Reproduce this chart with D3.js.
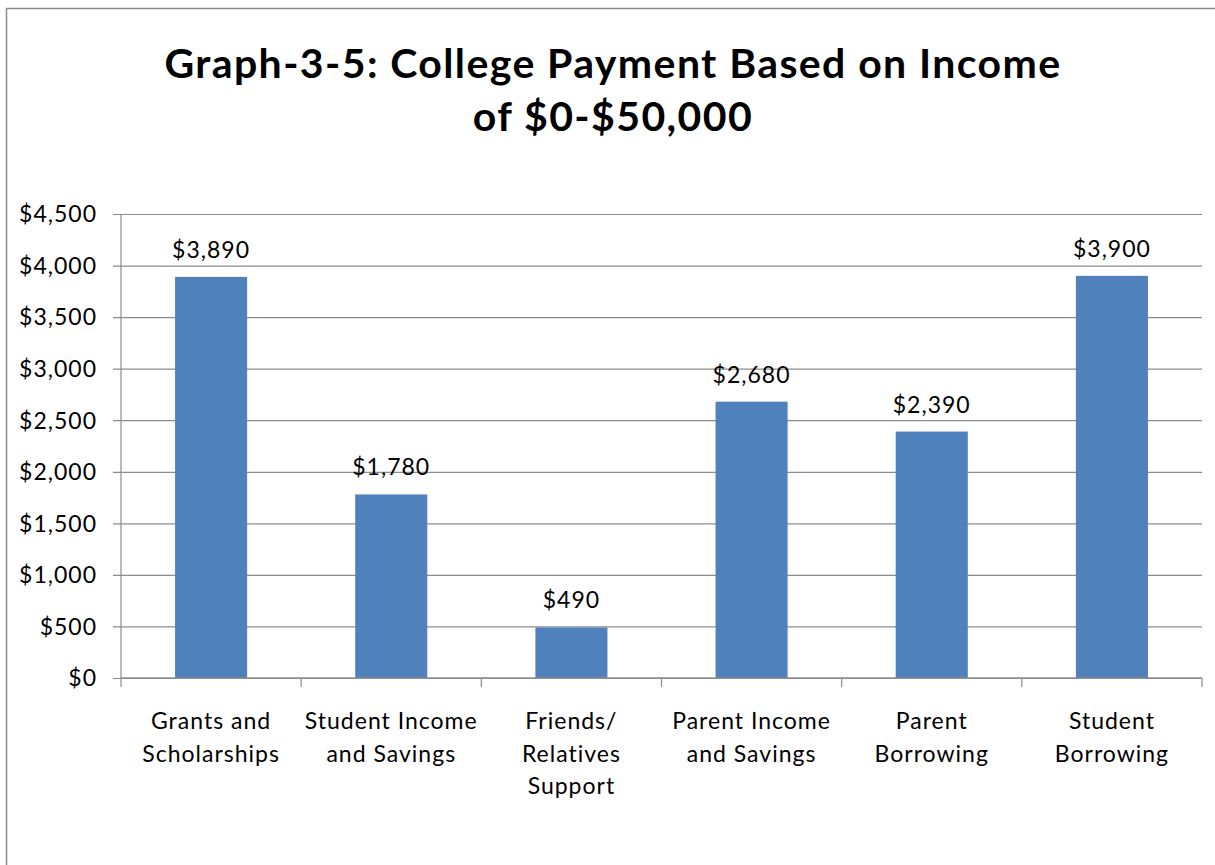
<!DOCTYPE html>
<html>
<head>
<meta charset="utf-8">
<script src="https://cdn.jsdelivr.net/npm/d3@7"></script>
<style>
  html, body { margin: 0; padding: 0; background: #fff; }
  svg { display: block; }
  text { font-family: Lato, "Open Sans", sans-serif; fill: #000; }
</style>
</head>
<body>
<svg id="chart" width="1215" height="865"></svg>
<script>
// Average college payment by source, family income $0-$50,000
const categories = [
  ["Grants and", "Scholarships"],
  ["Student Income", "and Savings"],
  ["Friends/", "Relatives", "Support"],
  ["Parent Income", "and Savings"],
  ["Parent", "Borrowing"],
  ["Student", "Borrowing"]
];
const values = [3890, 1780, 490, 2680, 2390, 3900];
const yTicks = [0, 500, 1000, 1500, 2000, 2500, 3000, 3500, 4000, 4500];
const titleLines = ["Graph-3-5: College Payment Based on Income", "of $0-$50,000"];

const svg = d3.select("#chart");
const W = 1215, H = 865;

// outer chart frame (runs past the right and bottom edges)
svg.append("rect")
  .attr("x", 6.5).attr("y", 8.5)
  .attr("width", W).attr("height", H)
  .attr("fill", "#fff")
  .attr("stroke", "#8a8a8a").attr("stroke-width", 1.5);

const plot = { left: 121, right: 1202, top: 214, bottom: 678 };
const keys = categories.map((c, i) => i);
const money = d => "$" + d3.format(",")(d);

const y = d3.scaleLinear().domain([0, 4500]).range([plot.bottom, plot.top]);
const xCat = d3.scaleBand().domain(keys).range([plot.left, plot.right]).padding(0);
const xBar = d3.scaleBand().domain(keys).range([plot.left, plot.right])
  .paddingInner(0.6).paddingOuter(0.3);

// title
svg.append("text")
  .attr("text-anchor", "middle")
  .style("font-weight", "bold").style("font-size", "41px")
  .style("letter-spacing", "1.4px")
  .selectAll("tspan").data(titleLines).join("tspan")
  .attr("x", 613).attr("y", (d, i) => 78 + i * 53)
  .text(d => d);

// horizontal gridlines + y axis
const yAxis = d3.axisLeft(y).tickValues(yTicks).tickFormat(money)
  .tickSize(-(plot.right - plot.left)).tickPadding(24);
const gy = svg.append("g").attr("transform", `translate(${plot.left},0)`).call(yAxis);
gy.select(".domain").remove();
gy.selectAll(".tick line").attr("stroke", "#8c8c8c").attr("stroke-width", 1.2)
  .attr("x2", plot.right - plot.left).attr("x1", -8);
gy.selectAll(".tick text").style("font-size", "23px").style("letter-spacing", "1px")
  .attr("fill", "#000").attr("dy", "0.34em");

// vertical axis line
svg.append("line")
  .attr("x1", plot.left).attr("x2", plot.left)
  .attr("y1", plot.top).attr("y2", plot.bottom)
  .attr("stroke", "#8c8c8c").attr("stroke-width", 1.2);

// bars
svg.append("g").selectAll("rect").data(values).join("rect")
  .attr("x", (d, i) => xBar(i))
  .attr("width", xBar.bandwidth())
  .attr("y", d => y(d))
  .attr("height", d => y(0) - y(d))
  .attr("fill", "#4f81bd");

// value labels
svg.append("g").selectAll("text").data(values).join("text")
  .attr("x", (d, i) => xBar(i) + xBar.bandwidth() / 2)
  .attr("y", d => y(d) - 19)
  .attr("text-anchor", "middle")
  .style("font-size", "23px").style("letter-spacing", "1px")
  .text(d => money(d));

// category axis line and tick marks at category boundaries
svg.append("line")
  .attr("x1", plot.left).attr("x2", plot.right)
  .attr("y1", y(0)).attr("y2", y(0))
  .attr("stroke", "#8c8c8c").attr("stroke-width", 1.5);
const edges = keys.map(k => xCat(k)).concat([plot.right]);
svg.append("g").selectAll("line").data(edges).join("line")
  .attr("x1", d => d).attr("x2", d => d)
  .attr("y1", y(0)).attr("y2", y(0) + 9)
  .attr("stroke", "#8c8c8c").attr("stroke-width", 1.2);

// category labels
svg.append("g").selectAll("text").data(categories).join("text")
  .attr("text-anchor", "middle")
  .style("font-size", "23px").style("letter-spacing", "1px")
  .each(function (lines, i) {
    d3.select(this).selectAll("tspan").data(lines).join("tspan")
      .attr("x", xCat(i) + xCat.bandwidth() / 2)
      .attr("y", (d, j) => 729 + j * 32.5)
      .text(d => d);
  });
</script>
</body>
</html>
